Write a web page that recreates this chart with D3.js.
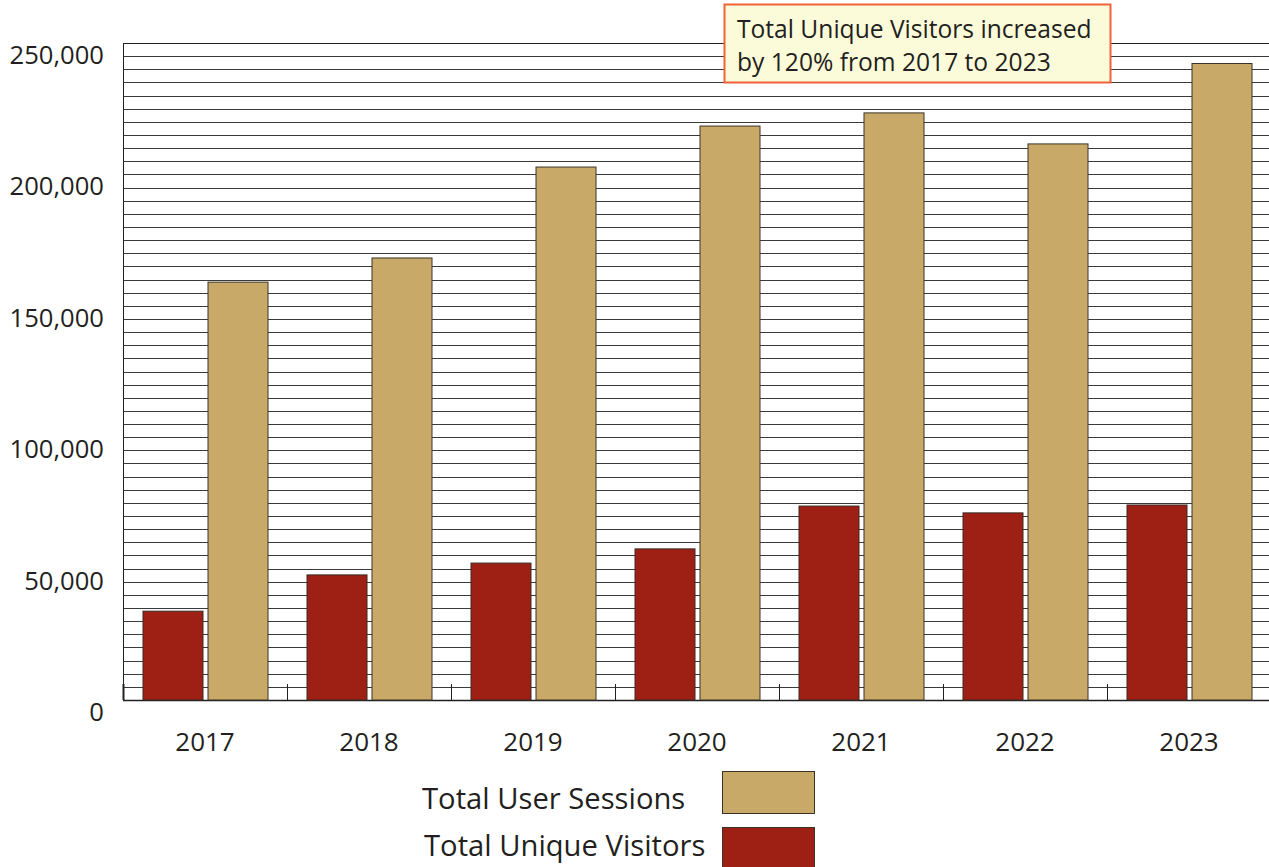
<!DOCTYPE html>
<html><head><meta charset="utf-8">
<script src="https://cdn.jsdelivr.net/npm/d3@7"></script>
<style>body{margin:0;background:#fff}svg{display:block}text{font-family:"Open Sans",sans-serif;fill:#231f20}</style>
</head><body><svg id="c" width="1269" height="867"></svg>
<script>
const years = ["2017","2018","2019","2020","2021","2022","2023"];
const uniqueVisitors = [33800, 47600, 52100, 57500, 73800, 71200, 74200];
const userSessions = [159000, 168200, 202800, 218400, 223400, 211600, 242200];
const yTicks = [0, 50000, 100000, 150000, 200000, 250000];
const annotation = ["Total Unique Visitors increased", "by 120% from 2017 to 2023"];
const legendItems = [{label:"Total User Sessions", color:"#c9a968"},{label:"Total Unique Visitors", color:"#9e1f14"}];

const svg = d3.select("#c");
const L = 123, R = 1269, T = 43, B = 700;
const y = d3.scaleLinear().domain([0, 250000]).range([B, T]);
const x = d3.scaleBand().domain(years).range([L, L + 164*7]).paddingInner(0).paddingOuter(0);
const bw = 60;

// gridlines every 5000
const grid = d3.range(5000, 250001, 5000);
svg.append("g").selectAll("line").data(grid).join("line")
  .attr("x1", L).attr("x2", R).attr("y1", d => Math.round(y(d))+0.5).attr("y2", d => Math.round(y(d))+0.5)
  .attr("stroke", "#3a3a3a").attr("stroke-width", 1);

// left axis line
svg.append("line").attr("x1", L+0.5).attr("x2", L+0.5).attr("y1", T).attr("y2", B).attr("stroke", "#231f20").attr("stroke-width", 1);
// bottom axis
svg.append("line").attr("x1", L).attr("x2", R).attr("y1", B+0.5).attr("y2", B+0.5).attr("stroke", "#231f20").attr("stroke-width", 1.5);
// band ticks
svg.append("g").selectAll("line").data(years).join("line")
  .attr("x1", d => Math.round(x(d))+0.5).attr("x2", d => Math.round(x(d))+0.5)
  .attr("y1", B-16).attr("y2", B).attr("stroke", "#231f20").attr("stroke-width", (d,i)=> i===0?2:1);

// bars
const g = svg.append("g");
g.selectAll("rect.uv").data(years).join("rect").attr("class","uv")
  .attr("x", d => x(d) + 20).attr("width", bw)
  .attr("y", (d,i) => y(uniqueVisitors[i])).attr("height", (d,i) => B - y(uniqueVisitors[i]))
  .attr("fill", "#9e1f14").attr("stroke", "#3b2a22").attr("stroke-width", 1);
g.selectAll("rect.us").data(years).join("rect").attr("class","us")
  .attr("x", d => x(d) + 20 + bw + 5).attr("width", bw)
  .attr("y", (d,i) => y(userSessions[i])).attr("height", (d,i) => B - y(userSessions[i]))
  .attr("fill", "#c9a968").attr("stroke", "#3b3328").attr("stroke-width", 1);

// top border
svg.append("line").attr("x1", L).attr("x2", R).attr("y1", T+0.5).attr("y2", T+0.5).attr("stroke", "#231f20");

// y labels
svg.append("g").selectAll("text").data(yTicks).join("text")
  .attr("x", 104).attr("y", d => y(d) + 21).attr("text-anchor", "end")
  .attr("font-size", 25.6).text(d => d3.format(",")(d));

// x labels
svg.append("g").selectAll("text").data(years).join("text")
  .attr("x", d => x(d) + x.bandwidth()/2).attr("y", 751).attr("text-anchor", "middle")
  .attr("font-size", 26).text(d => d);

// annotation
svg.append("rect").attr("x", 724.5).attr("y", 4.5).attr("width", 386).attr("height", 78)
  .attr("fill", "#fcfbd9").attr("stroke", "#f0623a").attr("stroke-width", 2);
svg.append("g").selectAll("text").data(annotation).join("text")
  .attr("x", 737).attr("y", (d,i) => 38 + i*33).attr("font-size", 24.6).text(d => d);

// legend
const lg = svg.append("g");
legendItems.forEach((it, i) => {
  lg.append("text").attr("x", i===0?422:424).attr("y", 809 + i*47).attr("font-size", 29.2).text(it.label);
  lg.append("rect").attr("x", 722.5).attr("y", 771.5 + i*56).attr("width", 92).attr("height", 42)
    .attr("fill", it.color).attr("stroke", "#3b3328").attr("stroke-width", 1);
});
</script></body></html>
